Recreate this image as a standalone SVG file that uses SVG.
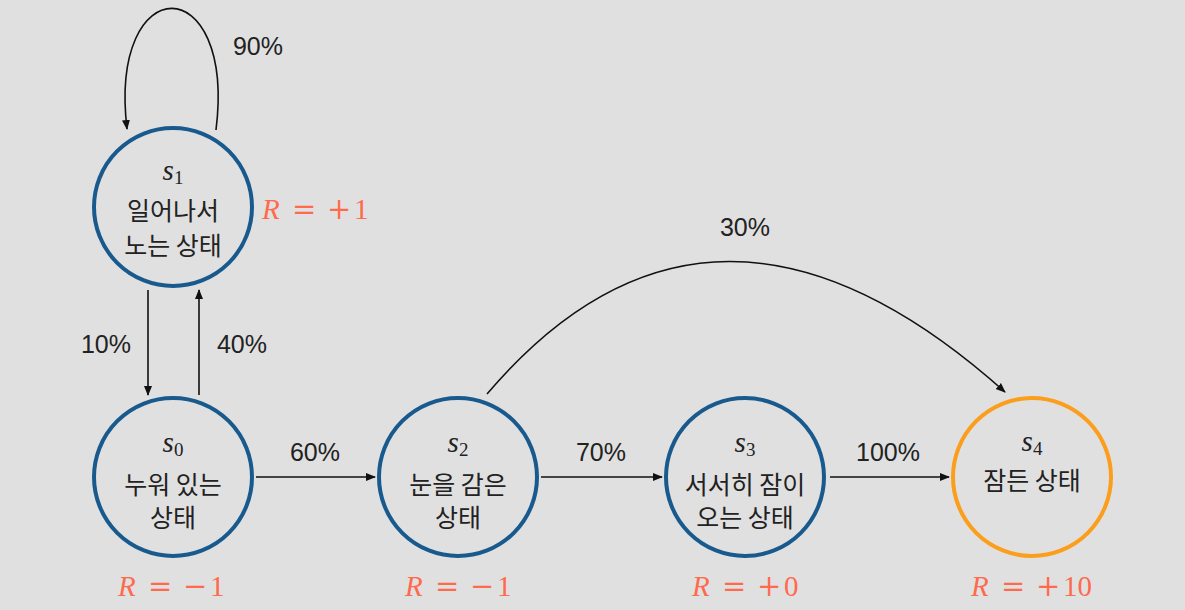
<svg xmlns="http://www.w3.org/2000/svg" width="1185" height="610" viewBox="0 0 1185 610">
<defs>
<marker id="ah" markerWidth="10" markerHeight="10" refX="9" refY="5" orient="auto" markerUnits="userSpaceOnUse">
<path d="M0,1 L10,5 L0,9 Z" fill="#111"/>
</marker>
<style>
.st{fill:none;stroke-width:4}
.blue{stroke:#195a8e}
.orange{stroke:#fb9e1c}
.sym{font-family:"Liberation Serif",serif;font-style:italic;font-size:29px;fill:#222;text-anchor:middle}
.sub{font-style:normal;font-size:19px}
.kr{font-family:"Noto Sans CJK KR","Liberation Sans",sans-serif;font-size:25px;fill:#222;text-anchor:middle}
.lbl{font-family:"Liberation Sans","Noto Sans",sans-serif;font-size:25px;fill:#222;text-anchor:middle}
.rw{font-family:"Liberation Serif",serif;font-size:29px;fill:#ff6a4d}
.rw .i{font-style:italic}
.rw .op{font-family:"DejaVu Serif",serif;font-size:29px}
.edge{fill:none;stroke:#111;stroke-width:1.6;marker-end:url(#ah)}
</style>
</defs>
<rect width="1185" height="610" fill="#e0e0e0"/>
<g id="connectors">
<path class="edge" d="M216,130 C236,-32 108,-32 127,129"/>
<path class="edge" d="M148,290 L148,395"/>
<path class="edge" d="M199,395 L199,290"/>
<path class="edge" d="M256,477 L375,477"/>
<path class="edge" d="M541,477 L662,477"/>
<path class="edge" d="M830,477 L949,477"/>
<path class="edge" d="M487,394 Q712,130 1005,392"/>
<text class="lbl" x="258" y="55">90%</text>
<text class="lbl" x="106" y="353">10%</text>
<text class="lbl" x="242" y="353">40%</text>
<text class="lbl" x="315" y="461">60%</text>
<text class="lbl" x="601" y="461">70%</text>
<text class="lbl" x="888" y="461">100%</text>
<text class="lbl" x="745" y="236">30%</text>
</g>
<g id="s1">
<circle class="st blue" cx="173" cy="207" r="79"/>
<text class="sym" x="173" y="180">s<tspan class="sub" dy="4">1</tspan></text>
<text class="kr" x="173" y="220">일어나서</text>
<text class="kr" x="173" y="255">노는 상태</text>
<text class="rw" y="219"><tspan class="i" x="262">R</tspan><tspan class="op" x="292">=</tspan><tspan class="op" x="327">+</tspan><tspan x="354">1</tspan></text>
</g>
<g id="s0">
<circle class="st blue" cx="173" cy="477" r="79"/>
<text class="sym" x="173" y="452">s<tspan class="sub" dy="4">0</tspan></text>
<text class="kr" x="173" y="494">누워 있는</text>
<text class="kr" x="173" y="527">상태</text>
<text class="rw" y="596"><tspan class="i" x="118">R</tspan><tspan class="op" x="148">=</tspan><tspan class="op" x="183">−</tspan><tspan x="210">1</tspan></text>
</g>
<g id="s2">
<circle class="st blue" cx="458" cy="477" r="79"/>
<text class="sym" x="458" y="452">s<tspan class="sub" dy="4">2</tspan></text>
<text class="kr" x="458" y="494">눈을 감은</text>
<text class="kr" x="458" y="527">상태</text>
<text class="rw" y="596"><tspan class="i" x="405">R</tspan><tspan class="op" x="435">=</tspan><tspan class="op" x="470">−</tspan><tspan x="497">1</tspan></text>
</g>
<g id="s3">
<circle class="st blue" cx="745" cy="477" r="79"/>
<text class="sym" x="745" y="452">s<tspan class="sub" dy="4">3</tspan></text>
<text class="kr" x="745" y="494">서서히 잠이</text>
<text class="kr" x="745" y="527">오는 상태</text>
<text class="rw" y="596"><tspan class="i" x="692">R</tspan><tspan class="op" x="722">=</tspan><tspan class="op" x="757">+</tspan><tspan x="784">0</tspan></text>
</g>
<g id="s4">
<circle class="st orange" cx="1032" cy="477" r="79"/>
<text class="sym" x="1032" y="451">s<tspan class="sub" dy="4">4</tspan></text>
<text class="kr" x="1032" y="490">잠든 상태</text>
<text class="rw" y="596"><tspan class="i" x="971">R</tspan><tspan class="op" x="1001">=</tspan><tspan class="op" x="1036">+</tspan><tspan x="1063">10</tspan></text>
</g>
</svg>
